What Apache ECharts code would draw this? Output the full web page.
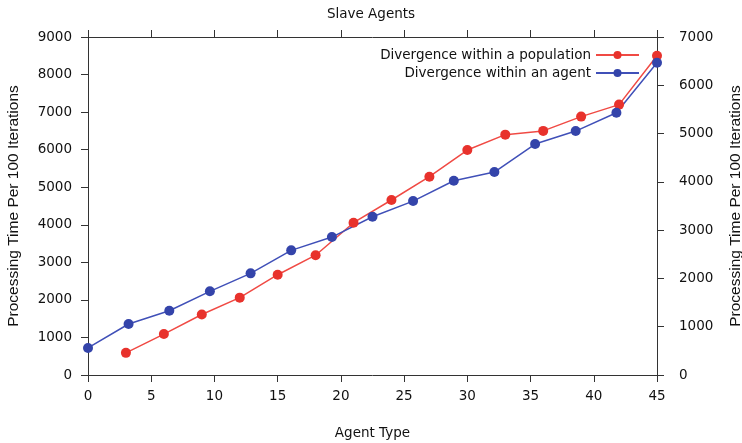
<!DOCTYPE html>
<html>
<head>
<meta charset="utf-8">
<script src="https://cdn.jsdelivr.net/npm/echarts@6/dist/echarts.min.js"></script>
<style>html,body{margin:0;padding:0;background:#fff}#c{width:742px;height:443px}</style>
</head>
<body>
<div id="c"></div>
<script>
const titleText = 'Slave Agents';
const xName = 'Agent Type';
const yName = 'Processing Time Per 100 Iterations';
const popName = 'Divergence within a population';
const agentName = 'Divergence within an agent';
const popX = [3, 6, 9, 12, 15, 18, 21, 24, 27, 30, 33, 36, 39, 42, 45];
const popY = [590, 1090, 1610, 2060, 2670, 3190, 4055, 4660, 5280, 5990, 6400, 6500, 6880, 7200, 8500];
const agentX = [0, 3.21, 6.43, 9.64, 12.86, 16.07, 19.29, 22.5, 25.71, 28.93, 32.14, 35.36, 38.57, 41.79, 45];
const agentY = [560, 1056, 1331, 1733, 2105, 2581, 2857, 3278, 3602, 4023, 4203, 4783, 5052, 5431, 6466];

const font = 'DejaVu Sans';
const nameFont = 'Liberation Sans';
const txt = '#111';
const axisCol = '#333';
const red = '#e8322c';
const blue = '#3444aa';

const chart = echarts.init(document.getElementById('c'));
const axLine = {show: true, onZero: false, lineStyle: {color: axisCol, width: 1}};
const axTick = {show: true, inside: false, length: 7, lineStyle: {color: axisCol, width: 1}};
const lbl = {color: txt, fontFamily: font, fontSize: 13.5, formatter: v => String(v)};
const yNameStyle = {color: txt, fontFamily: nameFont, fontSize: 15.5};
const xNameStyle = {color: txt, fontFamily: font, fontSize: 13.5};
const legText = {fontFamily: font, fontSize: 13.5, color: txt};
chart.setOption({
  animation: false,
  backgroundColor: '#fff',
  title: {text: titleText, left: 'center', top: 2, textStyle: {fontFamily: font, fontSize: 13.5, fontWeight: 'normal', color: txt}},
  grid: {left: 88, right: 85, top: 37, bottom: 68, containLabel: false, outerBoundsMode: 'none'},
  legend: [
    {data: [popName], right: 97, top: 43, align: 'right', itemWidth: 43, itemHeight: 10, itemGap: 8, textStyle: legText},
    {data: [agentName], right: 97, top: 61, align: 'right', itemWidth: 43, itemHeight: 10, itemGap: 8, textStyle: legText}
  ],
  xAxis: [
    {type: 'value', min: 0, max: 45, interval: 5, position: 'bottom',
     name: xName, nameLocation: 'middle', nameGap: 51, nameTextStyle: xNameStyle,
     axisLine: axLine, axisTick: axTick, splitLine: {show: false},
     axisLabel: Object.assign({}, lbl, {margin: 14})},
    {type: 'value', min: 0, max: 45, interval: 5, position: 'top',
     axisLine: axLine, axisTick: axTick, splitLine: {show: false}, axisLabel: {show: false}}
  ],
  yAxis: [
    {type: 'value', min: 0, max: 9000, interval: 1000, position: 'left',
     name: yName, nameLocation: 'middle', nameGap: 66, nameTextStyle: yNameStyle,
     axisLine: axLine, axisTick: axTick, splitLine: {show: false},
     axisLabel: Object.assign({}, lbl, {margin: 16})},
    {type: 'value', min: 0, max: 7000, interval: 1000, position: 'right',
     name: yName, nameLocation: 'middle', nameGap: 71, nameRotate: 90, nameTextStyle: yNameStyle,
     axisLine: axLine, axisTick: axTick, splitLine: {show: false},
     axisLabel: Object.assign({}, lbl, {margin: 22})}
  ],
  series: [
    {name: popName, type: 'line', xAxisIndex: 0, yAxisIndex: 0,
     data: popX.map((x, i) => [x, popY[i]]),
     symbol: 'circle', symbolSize: 10,
     itemStyle: {color: red}, lineStyle: {color: '#f04a44', width: 1.5}},
    {name: agentName, type: 'line', xAxisIndex: 0, yAxisIndex: 1,
     data: agentX.map((x, i) => [x, agentY[i]]),
     symbol: 'circle', symbolSize: 10,
     itemStyle: {color: blue}, lineStyle: {color: '#4050b8', width: 1.5}}
  ]
});
</script>
</body>
</html>
